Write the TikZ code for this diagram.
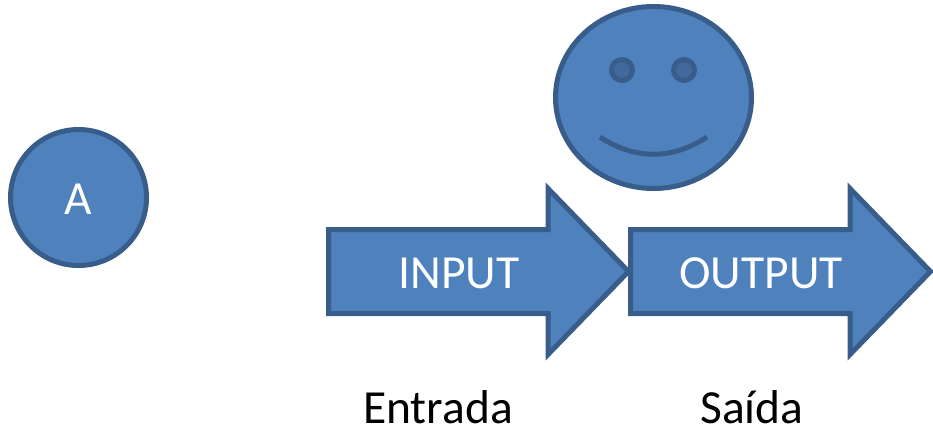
\documentclass[tikz,border=0pt]{standalone}
\usepackage{fontspec}
\setmainfont{Carlito}
\definecolor{fillb}{HTML}{4F81BD}
\definecolor{lineb}{HTML}{385D8A}
\definecolor{eyeb}{HTML}{41699B}
\tikzset{
  shapeb/.style={draw=lineb,fill=fillb,line width=5pt,line join=miter},
  lab/.style={text=white,font=\fontsize{47.5pt}{50pt}\selectfont,inner sep=0pt,anchor=base},
  captxt/.style={text=black,font=\fontsize{47.5pt}{50pt}\selectfont,inner sep=0pt,anchor=base}
}
\begin{document}
\begin{tikzpicture}[x=1pt,y=-1pt]
\useasboundingbox (0,0) rectangle (933,432);
\node[shapeb,circle,minimum size=136pt,inner sep=0pt] (a) at (78.5,197.5) {};
\node[lab] (at) at (78,214) {A};
\draw[shapeb] (328.5,229.5) -- (548,229.5) -- (548,188.5) -- (628.5,271.5) -- (548,354.5) -- (548,313.5) -- (328.5,313.5) -- cycle;
\draw[shapeb] (630.5,229.5) -- (850,229.5) -- (850,188.5) -- (930.5,271.5) -- (850,354.5) -- (850,313.5) -- (630.5,313.5) -- cycle;
\node[lab] (in) at (459,288) {INPUT};
\node[lab] (out) at (761,288) {OUTPUT};
\draw[shapeb] (653.5,97.5) ellipse (98pt and 91pt);
\draw[draw=lineb,fill=eyeb,line width=5pt] (622,70) circle (10.5pt);
\draw[draw=lineb,fill=eyeb,line width=5pt] (684,70) circle (10.5pt);
\draw[lineb,line width=5pt] (600,137) .. controls (635,160) and (672,160) .. (707,137);
\node[captxt] (en) at (438,423.5) {Entrada};
\node[captxt] (sa) at (752,423.5) {Saída};
\end{tikzpicture}
\end{document}
